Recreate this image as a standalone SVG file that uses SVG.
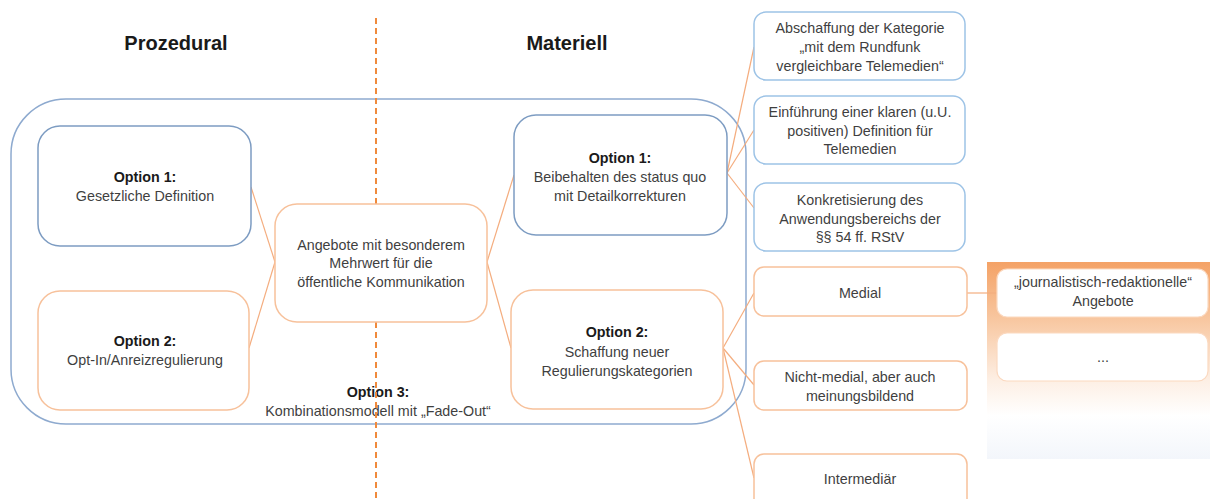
<svg xmlns="http://www.w3.org/2000/svg" width="1210" height="499" viewBox="0 0 1210 499">
<style>
text{font-family:"Liberation Sans",Arial,sans-serif;font-size:14.3px;fill:#3f3f3f;text-anchor:middle}
.b{font-weight:bold;fill:#1a1a1a}
.h{font-weight:bold;font-size:20px;fill:#1a1a1a}
.blue{fill:#fff;stroke:#7d9cc2;stroke-width:1.5}
.lblue{fill:#fff;stroke:#9dc3e6;stroke-width:1.5}
.org{fill:#fff;stroke:#f7c19b;stroke-width:1.5}
.conn{stroke:#f4ad7f;stroke-width:1.2;fill:none}
.dash{stroke:#f08a3c;stroke-width:2;stroke-dasharray:6 4;fill:none}
</style>
<defs>
<linearGradient id="g" x1="0" y1="0" x2="0" y2="1">
<stop offset="0" stop-color="#f4a266"/>
<stop offset="0.3" stop-color="#f8c8a2"/>
<stop offset="0.6" stop-color="#fdefe4"/>
<stop offset="0.78" stop-color="#ffffff"/>
<stop offset="1" stop-color="#f3f6fb"/>
</linearGradient>
</defs>
<rect width="1210" height="499" fill="#fff"/>

<g id="headers">
<text class="h" x="176" y="50">Prozedural</text>
<text class="h" x="567" y="50">Materiell</text>
</g>

<g id="container">
<rect x="11" y="99" width="735" height="325" rx="55" fill="none" stroke="#8eaacf" stroke-width="1.5"/>
<text class="b" x="378" y="397">Option 3:</text>
<text x="378" y="416">Kombinationsmodell mit „Fade-Out“</text>
</g>

<g id="panel">
<rect x="987" y="262" width="223" height="197" fill="url(#g)"/>
</g>

<g id="connectors">
<line class="dash" x1="376" y1="18" x2="376" y2="204"/>
<line class="dash" x1="376" y1="322" x2="376" y2="499"/>
<line class="conn" x1="251" y1="187" x2="275" y2="262"/>
<line class="conn" x1="249" y1="348" x2="275" y2="262"/>
<line class="conn" x1="487" y1="262" x2="514" y2="175"/>
<line class="conn" x1="487" y1="262" x2="511" y2="348"/>
<line class="conn" x1="727" y1="173" x2="754" y2="47"/>
<line class="conn" x1="727" y1="173" x2="754" y2="130"/>
<line class="conn" x1="727" y1="173" x2="754" y2="208"/>
<line class="conn" x1="723" y1="348" x2="754" y2="293"/>
<line class="conn" x1="723" y1="348" x2="754" y2="385"/>
<line class="conn" x1="723" y1="348" x2="754" y2="478"/>
<line class="conn" x1="967" y1="293" x2="997" y2="293"/>
</g>

<g id="opt1-left">
<rect class="blue" x="38" y="126" width="213" height="120" rx="22"/>
<text class="b" x="145" y="182">Option 1:</text>
<text x="145" y="201">Gesetzliche Definition</text>
</g>

<g id="opt2-left">
<rect class="org" x="38" y="291" width="211" height="119" rx="22"/>
<text class="b" x="145" y="346">Option 2:</text>
<text x="145" y="365">Opt-In/Anreizregulierung</text>
</g>

<g id="center">
<rect class="org" x="275" y="204" width="212" height="118" rx="22"/>
<text x="381" y="250">Angebote mit besonderem</text>
<text x="381" y="268">Mehrwert für die</text>
<text x="381" y="287">öffentliche Kommunikation</text>
</g>

<g id="opt1-right">
<rect class="blue" x="514" y="115" width="213" height="120" rx="22"/>
<text class="b" x="620" y="163">Option 1:</text>
<text x="620" y="182">Beibehalten des status quo</text>
<text x="620" y="201">mit Detailkorrekturen</text>
</g>

<g id="opt2-right">
<rect class="org" x="511" y="290" width="212" height="119" rx="22"/>
<text class="b" x="617" y="337">Option 2:</text>
<text x="617" y="357">Schaffung neuer</text>
<text x="617" y="376">Regulierungskategorien</text>
</g>

<g id="abschaffung">
<rect class="lblue" x="754" y="12" width="211" height="68" rx="12"/>
<text x="860" y="33">Abschaffung der Kategorie</text>
<text x="860" y="52">„mit dem Rundfunk</text>
<text x="860" y="71">vergleichbare Telemedien“</text>
</g>

<g id="einfuehrung">
<rect class="lblue" x="754" y="96" width="211" height="68" rx="12"/>
<text x="860" y="117">Einführung einer klaren (u.U.</text>
<text x="860" y="136">positiven) Definition für</text>
<text x="860" y="154">Telemedien</text>
</g>

<g id="konkretisierung">
<rect class="lblue" x="754" y="183" width="211" height="68" rx="12"/>
<text x="860" y="205">Konkretisierung des</text>
<text x="860" y="224">Anwendungsbereichs der</text>
<text x="860" y="242">§§ 54 ff. RStV</text>
</g>

<g id="medial">
<rect class="org" x="754" y="267" width="213" height="49" rx="10"/>
<text x="860" y="298">Medial</text>
</g>

<g id="nichtmedial">
<rect class="org" x="754" y="361" width="213" height="49" rx="10"/>
<text x="860" y="382">Nicht-medial, aber auch</text>
<text x="860" y="401">meinungsbildend</text>
</g>

<g id="intermediaer">
<rect class="org" x="754" y="454" width="213" height="60" rx="10"/>
<text x="860" y="484">Intermediär</text>
</g>

<g id="journalistisch">
<rect x="997" y="269" width="211" height="48" rx="10" fill="#fff" stroke="#fbd9c0" stroke-width="1.2"/>
<text x="1103" y="287">„journalistisch-redaktionelle“</text>
<text x="1103" y="306">Angebote</text>
</g>

<g id="dots">
<rect x="997" y="333" width="211" height="48" rx="10" fill="#fff" stroke="#fbd9c0" stroke-width="1.2"/>
<text x="1103" y="362">...</text>
</g>
</svg>
